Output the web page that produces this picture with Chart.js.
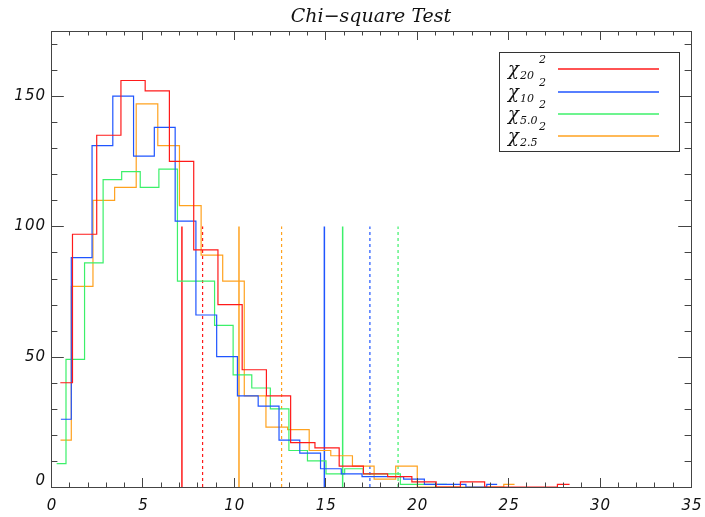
<!DOCTYPE html>
<html>
<head>
<meta charset="utf-8">
<script src="https://cdn.jsdelivr.net/npm/chart.js@4"></script>
<style>
  body { margin: 0; background: #fff; }
</style>
</head>
<body>
<canvas id="chiChart" width="705" height="517"></canvas>
<script>
// histogram bin centres and counts, 22 bins per sample
const centers20 = [0.51, 1.84, 3.16, 4.49, 5.81, 7.14, 8.47, 9.79, 11.12, 12.44, 13.77, 15.10, 16.42, 17.75, 19.07, 20.40, 21.73, 23.05, 24.38, 25.70, 27.03, 28.36];
const counts20  = [40, 97, 135, 156, 152, 125, 91, 70, 45, 35, 17, 15, 8, 5, 4, 2, 0, 2, 0, 0, 0, 1];

const centers10 = [0.54, 1.68, 2.81, 3.95, 5.08, 6.22, 7.36, 8.49, 9.63, 10.76, 11.90, 13.04, 14.17, 15.31, 16.44, 17.58, 18.72, 19.85, 20.99, 22.12, 23.26, 24.40];
const counts10  = [26, 88, 131, 150, 127, 138, 102, 66, 50, 35, 31, 18, 13, 7, 5, 4, 4, 3, 1, 1, 0, 1];

const centers50 = [0.31, 1.33, 2.34, 3.36, 4.37, 5.39, 6.41, 7.42, 8.44, 9.45, 10.47, 11.49, 12.50, 13.52, 14.53, 15.55, 16.57, 17.58, 18.60, 19.61, 20.63, 21.65];
const counts50  = [9, 49, 86, 118, 121, 115, 122, 79, 79, 62, 43, 38, 30, 14, 10, 5, 7, 5, 5, 1, 1, 1];

const centers25 = [0.52, 1.70, 2.89, 4.07, 5.25, 6.43, 7.62, 8.80, 9.98, 11.16, 12.35, 13.53, 14.71, 15.89, 17.08, 18.26, 19.44, 20.62, 21.81, 22.99, 24.17, 25.35];
const counts25  = [18, 77, 110, 115, 147, 131, 108, 89, 79, 35, 23, 22, 14, 12, 8, 3, 8, 0, 0, 0, 0, 1];

// critical values, order: 20, 10, 5.0, 2.5
const subLabels = ['20', '10', '5.0', '2.5'];
const colors = ['#ff1a1a', '#1f55ff', '#3cf06a', '#ffa21f'];
const critSolid = [7.16, 14.95, 15.95, 10.28];
const critDashed = [8.29, 17.44, 18.98, 12.61];
const critHeight = 100;

const xTicks = [0, 5, 10, 15, 20, 25, 30, 35];
const yTicks = [0, 50, 100, 150];

const hists = [
  [centers20, counts20],
  [centers10, counts10],
  [centers50, counts50],
  [centers25, counts25]
];

const datasets = [];
hists.forEach(function (h, i) {
  datasets.push({
    data: h[0].map((c, k) => ({ x: c, y: h[1][k] })),
    borderColor: colors[i],
    borderWidth: 1.2,
    stepped: 'middle',
    pointRadius: 0,
    fill: false
  });
});
for (let i = 0; i < 4; i++) {
  datasets.push({
    data: [{ x: critSolid[i], y: 0 }, { x: critSolid[i], y: critHeight }],
    borderColor: colors[i], borderWidth: 1.5, pointRadius: 0
  });
  datasets.push({
    data: [{ x: critDashed[i], y: 0 }, { x: critDashed[i], y: critHeight }],
    borderColor: colors[i], borderWidth: 1.2, borderDash: [3, 3], pointRadius: 0
  });
}

// IDL style box: inward ticks on all four sides, italic labels, title
const frame = {
  id: 'frame',
  afterDatasetsDraw(chart) {
    const { ctx, chartArea: a, scales: { x, y } } = chart;
    ctx.save();
    ctx.strokeStyle = '#444';
    ctx.lineWidth = 1;
    ctx.strokeRect(a.left + 0.5, a.top + 0.5, a.right - a.left, a.bottom - a.top);
    ctx.beginPath();
    for (let v = 0; v <= 35; v++) {
      const px = Math.round(x.getPixelForValue(v)) + 0.5;
      const len = v % 5 === 0 ? 9 : 4.5;
      ctx.moveTo(px, a.bottom); ctx.lineTo(px, a.bottom - len);
      ctx.moveTo(px, a.top); ctx.lineTo(px, a.top + len);
    }
    for (let v = 0; v <= 175; v += 10) {
      const py = Math.round(y.getPixelForValue(v)) + 0.5;
      const len = v % 50 === 0 ? 12.8 : 6.4;
      ctx.moveTo(a.left, py); ctx.lineTo(a.left + len, py);
      ctx.moveTo(a.right, py); ctx.lineTo(a.right - len, py);
    }
    ctx.stroke();

    ctx.fillStyle = '#111';
    ctx.font = 'italic 15px "DejaVu Sans"';
    ctx.letterSpacing = '1px';
    ctx.textAlign = 'center';
    ctx.textBaseline = 'middle';
    xTicks.forEach(v => ctx.fillText(String(v), x.getPixelForValue(v) + 1, 506));
    ctx.textAlign = 'right';
    // the zero label sits a little above the bottom edge
    yTicks.forEach(v => ctx.fillText(String(v), 46, Math.min(y.getPixelForValue(v), a.bottom - 6)));

    ctx.letterSpacing = '0px';
    ctx.textAlign = 'center';
    ctx.font = 'italic 19px "DejaVu Serif"';
    ctx.fillText('Chi\u2212square Test', (a.left + a.right) / 2, 17);
    ctx.restore();
  }
};

const legendBox = {
  id: 'legendBox',
  afterDatasetsDraw(chart) {
    const ctx = chart.ctx;
    ctx.save();
    ctx.fillStyle = '#fff';
    ctx.fillRect(499, 52, 180, 99);
    ctx.strokeStyle = '#333';
    ctx.lineWidth = 1;
    ctx.strokeRect(499.5, 52.5, 180, 99);
    const rows = [70, 93, 115, 137];
    rows.forEach(function (ry, i) {
      ctx.strokeStyle = colors[i];
      ctx.lineWidth = 1.5;
      ctx.beginPath();
      ctx.moveTo(558, ry - 1);
      ctx.lineTo(659, ry - 1);
      ctx.stroke();

      ctx.fillStyle = '#111';
      ctx.textBaseline = 'middle';
      ctx.textAlign = 'left';
      ctx.font = 'italic 18px "DejaVu Serif"';
      ctx.fillText('\u03c7', 508, ry);
      const w = ctx.measureText('\u03c7').width;
      ctx.font = 'italic 11px "DejaVu Serif"';
      ctx.fillText(subLabels[i], 508 + w + 1, ry + 6);
      ctx.fillText('2', 539, ry - 10);
    });
    ctx.restore();
  }
};

new Chart('chiChart', {
  type: 'line',
  data: { datasets: datasets },
  options: {
    responsive: false,
    animation: false,
    layout: { padding: { left: 51, right: 14, top: 31, bottom: 30 } },
    scales: {
      x: { type: 'linear', min: 0, max: 35, display: false },
      y: { type: 'linear', min: 0, max: 175, display: false }
    },
    plugins: { legend: { display: false }, tooltip: { enabled: false } }
  },
  plugins: [frame, legendBox]
});
</script>
</body>
</html>
